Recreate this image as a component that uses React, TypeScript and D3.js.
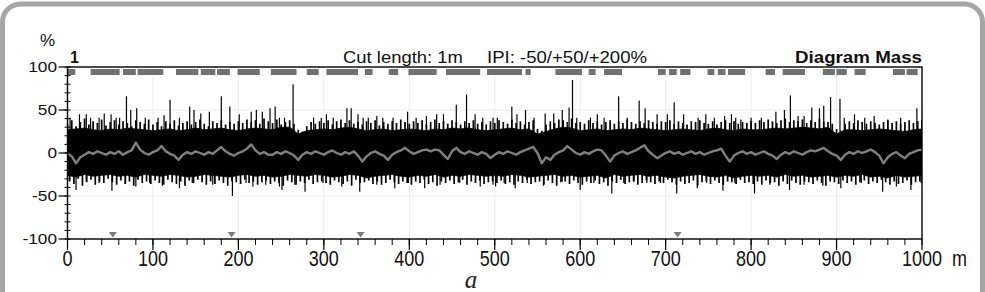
import React from "react";
import * as d3 from "d3";

// ---------- DATA ----------
// solid core of the dense black band, every 10 m from 0 to 1000 m (%)
const envStep = 10;
const upperEnv = [
  27, 28, 29, 27, 26, 28, 27, 29, 28, 27, 26,
  27, 28, 26, 27, 29, 27, 28, 29, 27, 26,
  28, 29, 28, 27, 30, 30, 22, 26, 27, 28,
  27, 29, 30, 28, 26, 27, 28, 26, 27, 28,
  27, 26, 28, 27, 29, 28, 29, 27, 26, 27,
  28, 29, 27, 28, 22, 25, 28, 30, 29, 26,
  27, 28, 26, 27, 28, 27, 29, 28, 27, 26,
  27, 28, 27, 26, 28, 29, 27, 26, 28, 27,
  27, 28, 29, 28, 29, 30, 29, 28, 30, 22,
  27, 27, 26, 27, 28, 27, 26, 25, 27, 28,
];
const lowerEnv = [
  -26, -28, -25, -27, -26, -25, -27, -26, -28, -25, -26,
  -27, -25, -26, -28, -27, -25, -26, -27, -28, -26,
  -25, -27, -26, -28, -27, -25, -26, -27, -25, -26,
  -28, -27, -25, -26, -29, -27, -26, -25, -27, -28,
  -26, -27, -25, -28, -26, -27, -25, -26, -27, -26,
  -27, -25, -26, -28, -27, -26, -25, -27, -26, -28,
  -27, -26, -29, -25, -27, -26, -25, -27, -26, -28,
  -29, -27, -26, -25, -27, -28, -26, -29, -27, -26,
  -27, -26, -28, -25, -27, -26, -28, -27, -26, -28,
  -26, -27, -25, -28, -27, -29, -26, -28, -27, -26,
];

// grass tips of the band, every 5 m from 0 to 1000 m (%)
const tipStep = 5;
const upperTips = [
  34, 38, 31, 36, 40, 33, 37, 35, 39, 32, 36, 38, 33, 37, 35, 31, 38, 36, 34, 39,
  33, 36, 31, 37, 34, 38, 32, 35, 37, 33, 36, 39, 34, 31, 37, 35, 38, 33, 36, 34,
  37, 35, 39, 36, 38, 34, 40, 37, 35, 39, 33, 36, 38, 34, 27, 25, 31, 36, 34, 37,
  35, 38, 33, 37, 39, 35, 38, 34, 36, 33, 37, 35, 38, 32, 36, 34, 37, 35, 39, 36,
  34, 37, 35, 38, 33, 36, 39, 35, 37, 34, 38, 36, 33, 37, 35, 38, 34, 36, 33, 37,
  35, 38, 36, 34, 39, 35, 37, 33, 36, 38, 28, 26, 33, 37, 35, 39, 38, 36, 40, 35,
  36, 34, 38, 35, 37, 33, 36, 38, 34, 37, 35, 39, 36, 34, 37, 35, 38, 36, 34, 37,
  36, 38, 34, 37, 35, 33, 37, 36, 38, 35, 34, 37, 33, 36, 38, 35, 37, 34, 36, 35,
  37, 35, 38, 36, 39, 37, 35, 38, 40, 36, 38, 37, 39, 35, 38, 36, 40, 37, 36, 34,
  28, 26, 34, 37, 35, 38, 36, 34, 37, 35, 33, 36, 38, 35, 37, 34, 36, 38, 35, 37, 39,
];
const lowerTips = [
  -33, -36, -30, -38, -34, -31, -37, -33, -35, -30, -34, -37, -32, -36, -33, -38, -31, -35, -33, -36,
  -32, -35, -37, -31, -34, -36, -33, -38, -32, -35, -31, -34, -37, -33, -36, -32, -35, -38, -33, -34,
  -36, -31, -35, -33, -37, -34, -32, -36, -33, -35, -38, -32, -34, -37, -33, -35, -31, -36, -34, -33,
  -35, -37, -32, -34, -36, -33, -38, -31, -35, -34, -32, -36, -33, -37, -35, -31, -34, -36, -33, -35,
  -37, -33, -35, -31, -36, -34, -38, -33, -35, -32, -36, -34, -31, -37, -33, -35, -32, -36, -34, -33,
  -35, -32, -36, -34, -37, -33, -35, -31, -36, -34, -33, -37, -32, -35, -38, -34, -33, -36, -32, -35,
  -37, -33, -35, -32, -36, -34, -38, -33, -35, -31, -36, -34, -33, -37, -35, -32, -34, -36, -33, -35,
  -31, -34, -37, -33, -36, -35, -32, -38, -34, -33, -36, -32, -35, -37, -33, -34, -36, -31, -35, -34,
  -36, -33, -37, -32, -35, -34, -38, -33, -36, -32, -35, -37, -33, -34, -36, -32, -35, -38, -33, -34,
  -36, -32, -35, -33, -37, -34, -32, -36, -33, -35, -31, -34, -37, -33, -36, -35, -32, -37, -34, -33, -35,
];

// isolated upward spikes: position (m) and peak (%)
const upSpikeM = [3, 14, 22, 27, 37, 43, 51, 57, 61, 69, 74, 81, 91, 106, 113, 120, 131, 143, 148, 156, 166, 180, 190, 201, 215, 221, 228, 237, 243, 248,
  254, 264, 288, 297, 303, 311, 327, 332, 340, 346, 352, 362, 369, 381, 398, 408, 420, 432, 440, 455, 467, 477, 486, 498,
  503, 520, 526, 536, 546, 559, 569, 579, 587, 591, 596, 612, 620, 628, 645, 655, 669, 676, 690, 702, 710, 721, 738, 747,
  757, 769, 777, 782, 788, 800, 812, 829, 839, 846, 855, 862, 871, 880, 885, 893, 904, 909, 921, 933, 944, 960, 975, 994];
const upSpikeV = [41, 45, 45, 41, 41, 46, 45, 41, 41, 66, 50, 52, 41, 41, 44, 62, 41, 54, 50, 46, 48, 66, 54, 45, 48, 50, 48, 52, 54, 41,
  41, 80, 41, 41, 45, 41, 52, 52, 45, 41, 41, 43, 41, 41, 48, 41, 43, 45, 45, 56, 68, 45, 41, 41,
  41, 54, 45, 50, 41, 46, 46, 50, 53, 85, 41, 41, 45, 41, 66, 41, 61, 52, 45, 45, 59, 45, 41, 45,
  41, 43, 45, 41, 39, 41, 41, 48, 50, 67, 43, 43, 53, 52, 55, 65, 63, 41, 45, 41, 43, 39, 41, 52];

// isolated downward spikes: position (m) and trough (%)
const downSpikeM = [10, 22, 37, 52, 68, 80, 96, 111, 131, 146, 170, 193, 209, 217, 232, 248,
  251, 266, 278, 299, 321, 342, 362, 383, 399, 418, 436, 459, 483, 498,
  501, 511, 524, 538, 557, 579, 600, 616, 637, 651, 663, 678, 694, 713, 737, 748,
  767, 781, 804, 822, 845, 862, 884, 905, 929, 954, 970, 987, 999];
const downSpikeV = [-43, -33, -35, -44, -35, -39, -35, -38, -41, -35, -37, -50, -35, -39, -37, -39,
  -43, -37, -45, -35, -39, -45, -37, -41, -35, -41, -37, -35, -39, -37,
  -39, -35, -41, -35, -38, -33, -43, -35, -47, -35, -33, -35, -35, -47, -41, -35,
  -44, -35, -47, -37, -43, -37, -38, -41, -35, -45, -39, -43, -35];

// gray running mean, every 5 m from 0 to 1000 m (%)
const meanStep = 5;
const meanLine = [
  0, -4, -12, -5, -2, 1, -1, 2, 0, -2, 1, -1, 2, -2, 1, 3, 12, 4, 0, -2,
  1, 3, 8, 2, -1, -3, -8, -2, 1, -1, 2, 0, -2, 1, -1, 3, 7, 2, -1, -3,
  0, 2, 5, 10, 3, -1, 1, -2, -2, 1, -1, 2, 0, -3, -8, -2, 1, -1, 2, 0,
  -2, 1, 3, 0, -2, 1, -1, 2, -3, -10, -4, 0, 2, -1, -3, -8, -2, 1, 3, 6,
  2, -1, 1, 3, 4, 2, 4, 3, -2, -7, 2, 6, 1, -1, 2, 0, -2, 1, -1, -6,
  -2, 1, -1, 2, 0, -2, 1, 3, 5, 7, 0, -12, -5, -8, -2, 1, 3, 8, 4, 0,
  -2, 1, -1, 2, 4, 3, -3, -10, -3, 0, 2, -1, 1, 3, 6, 9, 2, -2, -6, -3,
  0, 2, -1, 1, -2, 0, 2, -1, 1, -2, 0, 2, 3, 5, -3, -10, -3, 0, 2, -1,
  1, -2, 0, 2, -1, -3, -7, -2, 1, -1, 2, 0, -2, 1, 3, 2, 4, 6, 2, -1,
  -3, -8, -2, 1, -1, 2, 0, 2, 4, 1, -3, -12, -5, -1, 1, -3, -6, -1, 1, 3,
  4,
];

// IPI marker bars along the top (start/end in m)
const ipiStart = [0, 27, 65, 82, 127, 156, 175, 199, 238, 280, 303, 348, 376, 399, 443, 491, 536, 571, 610, 628, 691, 704, 717, 749, 761, 773, 817, 837, 884, 900, 921, 966, 982];
const ipiEnd = [9, 61, 80, 112, 153, 173, 190, 225, 268, 294, 340, 357, 387, 432, 483, 532, 542, 602, 618, 649, 700, 713, 729, 757, 770, 793, 828, 863, 898, 912, 934, 980, 995];

// triangle markers along the bottom (m)
const bottomMarks = [53, 192, 343, 714];

const xMajor = [0, 100, 200, 300, 400, 500, 600, 700, 800, 900, 1000];
const xTickLabels = ["0", "100", "200", "300", "400", "500", "600", "700", "800", "900", "1000"];
const yMajor = [-100, -50, 0, 50, 100];
const yTickLabels = ["-100", "-50", "0", "50", "100"];

export default function App() {
  const W = 985, H = 292;
  const x = d3.scaleLinear().domain([0, 1000]).range([67.5, 922]);
  const y = d3.scaleLinear().domain([-100, 100]).range([239, 67]);

  const band = d3
    .area<number>()
    .x((_, i) => x(i * envStep))
    .y0((_, i) => y(lowerEnv[i]))
    .y1((d) => y(d))
    .curve(d3.curveLinear)(upperEnv) as string;

  const mean = d3
    .line<number>()
    .x((_, i) => x(i * meanStep))
    .y((d) => y(d))(meanLine) as string;

  const minorX = d3.range(0, 1001, 20);
  const minorY = d3.range(-100, 101, 10);
  const font = "'Liberation Sans', Arial, sans-serif";
  const yb = y(-100);

  return (
    <svg width={W} height={H} style={{ position: "absolute", left: 0, top: 0, background: "#fff" }}>
      <defs>
        <clipPath id="plotClip">
          <rect x={x(0)} y={y(100)} width={x(1000) - x(0)} height={y(-100) - y(100)} />
        </clipPath>
      </defs>
      {/* frame */}
      <rect x={2.5} y={4} width={980} height={340} rx={18} ry={18} fill="#fff" stroke="#a6a6a6" strokeWidth={5} />

      {/* faint grid */}
      {xMajor.slice(1, -1).map((v) => (
        <line key={"gx" + v} x1={x(v)} x2={x(v)} y1={y(100)} y2={y(-100)} stroke="#ececec" strokeWidth={1} />
      ))}
      {[-50, 50].map((v) => (
        <line key={"gy" + v} x1={x(0)} x2={x(1000)} y1={y(v)} y2={y(v)} stroke="#ececec" strokeWidth={1} />
      ))}

      {/* signal band */}
      <g clipPath="url(#plotClip)">
        <path d={band} fill="#000" stroke="#000" strokeWidth={0.8} />
        {upperTips.map((v, i) => (
          <line key={"ut" + i} x1={x(i * tipStep)} x2={x(i * tipStep)} y1={y(0)} y2={y(v)} stroke="#000" strokeWidth={1.7} />
        ))}
        {lowerTips.map((v, i) => (
          <line key={"lt" + i} x1={x(i * tipStep + 2.5)} x2={x(i * tipStep + 2.5)} y1={y(0)} y2={y(v)} stroke="#000" strokeWidth={1.7} />
        ))}
        {upSpikeM.map((m, i) => (
          <line key={"u" + i} x1={x(m)} x2={x(m)} y1={y(0)} y2={y(upSpikeV[i])} stroke="#000" strokeWidth={1.2} />
        ))}
        {downSpikeM.map((m, i) => (
          <line key={"d" + i} x1={x(m)} x2={x(m)} y1={y(0)} y2={y(downSpikeV[i])} stroke="#000" strokeWidth={1.2} />
        ))}
        <path d={mean} fill="none" stroke="#808080" strokeWidth={2.4} strokeLinejoin="round" />
      </g>

      {/* IPI markers */}
      {ipiStart.map((s, i) => (
        <rect key={"ipi" + i} x={x(s)} y={69} width={x(ipiEnd[i]) - x(s)} height={6} fill="#717171" />
      ))}
      {/* bottom triangles */}
      {bottomMarks.map((m, i) => (
        <path key={"t" + i} d={`M${x(m) - 4},${yb - 7}L${x(m) + 4},${yb - 7}L${x(m)},${yb - 1.5}Z`} fill="#7a7a7a" />
      ))}

      {/* plot box */}
      <rect x={x(0)} y={y(100)} width={x(1000) - x(0)} height={y(-100) - y(100)} fill="none" stroke="#000" strokeWidth={1.4} />

      {/* y axis ticks */}
      {minorY.map((v) => (
        <line key={"my" + v} x1={x(0) - 3} x2={x(0) + 3} y1={y(v)} y2={y(v)} stroke="#000" strokeWidth={1} />
      ))}
      {yMajor.map((v) => (
        <line key={"My" + v} x1={x(0) - 9} x2={x(0)} y1={y(v)} y2={y(v)} stroke="#000" strokeWidth={1.2} />
      ))}
      {yMajor.map((v, i) => (
        <text key={"ly" + v} transform={`translate(57,${y(v)}) scale(1.15,1)`} dy="0.36em" textAnchor="end" fontFamily={font} fontSize={15} fill="#111">
          {yTickLabels[i]}
        </text>
      ))}

      {/* x axis ticks */}
      {minorX.map((v) => (
        <line key={"mx" + v} x1={x(v)} x2={x(v)} y1={yb} y2={yb + 6} stroke="#000" strokeWidth={1} />
      ))}
      {xMajor.map((v) => (
        <line key={"Mx" + v} x1={x(v)} x2={x(v)} y1={yb} y2={yb + 11} stroke="#000" strokeWidth={1.2} />
      ))}
      {xMajor.map((v, i) => (
        <text key={"lx" + v} transform={`translate(${x(v)},266) scale(1,1.18)`} textAnchor="middle" fontFamily={font} fontSize={18} fill="#111">
          {xTickLabels[i]}
        </text>
      ))}
      <text transform="translate(952,266) scale(1,1.18)" fontFamily={font} fontSize={18} fill="#111">m</text>

      {/* header texts */}
      <text x={40} y={46} fontFamily={font} fontSize={17} fill="#111">%</text>
      <text x={70} y={63} fontFamily={font} fontSize={16} fontWeight="bold" fill="#111">1</text>
      <text x={343} y={63} fontFamily={font} fontSize={16.5} textLength={120} lengthAdjust="spacingAndGlyphs" fill="#111">Cut length: 1m</text>
      <text x={487} y={63} fontFamily={font} fontSize={16.5} textLength={160} lengthAdjust="spacingAndGlyphs" fill="#111">IPI: -50/+50/+200%</text>
      <text x={795} y={63} fontFamily={font} fontSize={16.5} fontWeight="bold" textLength={127} lengthAdjust="spacingAndGlyphs" fill="#111">Diagram Mass</text>

      {/* caption */}
      <text x={471} y={288} textAnchor="middle" fontFamily="'Liberation Serif', 'Times New Roman', serif" fontStyle="italic" fontSize={25} fill="#222">a</text>
    </svg>
  );
}
